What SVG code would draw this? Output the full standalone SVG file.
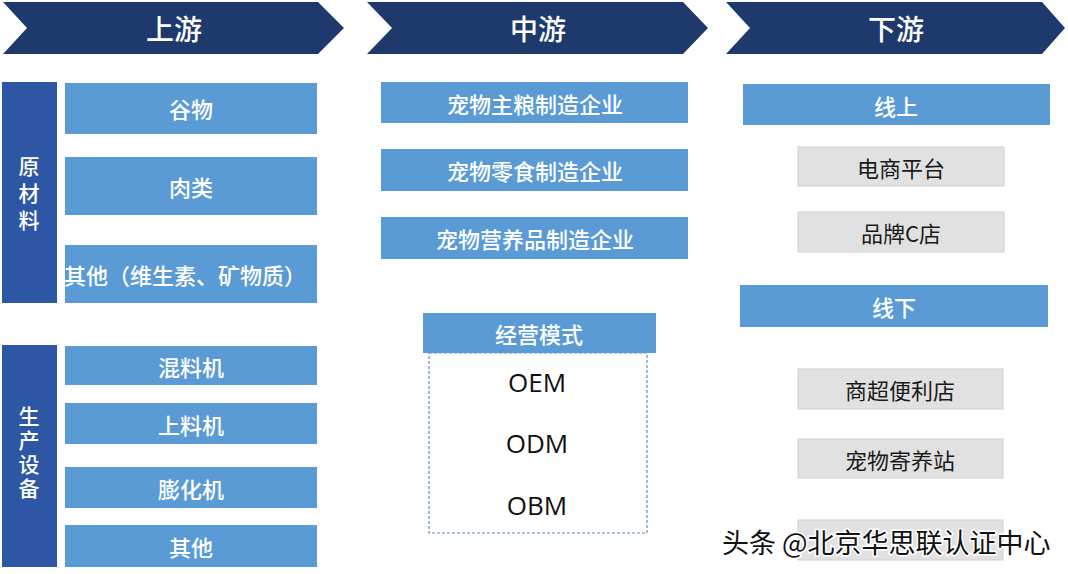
<svg xmlns="http://www.w3.org/2000/svg" width="1068" height="574" viewBox="0 0 1068 574">
<style>
.hdr{fill:#1e3a6c}
.htx{fill:#ffffff;font-family:"Noto Sans CJK SC","Noto Sans",sans-serif;font-size:28px;font-weight:500;text-anchor:middle;dominant-baseline:central}
.side{fill:#2d57a5}
.stx{fill:#ffffff;font-family:"Noto Sans CJK SC",sans-serif;font-size:21px;font-weight:500;text-anchor:middle;writing-mode:vertical-rl}
.blue{fill:#5b9bd5}
.btx{fill:#ffffff;font-family:"Noto Sans CJK SC",sans-serif;font-size:22px;font-weight:500;text-anchor:middle;dominant-baseline:central}
.gray{fill:#e1e1e1;stroke:#d0d0d0;stroke-width:1}
.gtx{fill:#1a1a1a;font-family:"Noto Sans CJK SC",sans-serif;font-size:22px;text-anchor:middle;dominant-baseline:central}
.ltx{fill:#111111;font-family:"Open Sans","Noto Sans",sans-serif;font-size:26px;text-anchor:middle;dominant-baseline:central}
.dash{fill:none;stroke:#5b8fc9;stroke-width:1.2;stroke-dasharray:3 2}
.wm{fill:#111111;stroke:#ffffff;stroke-width:3;paint-order:stroke;font-family:"Noto Sans CJK SC",sans-serif;font-size:27px}
</style>
<rect width="1068" height="574" fill="#ffffff"/>

<g id="header-upstream">
<polygon class="hdr" points="3,2 318,2 344,28 318,54 3,54 27,28"/>
<text class="htx" x="174" y="28">上游</text>
</g>
<g id="header-midstream">
<polygon class="hdr" points="367,2 683,2 708,28 683,54 367,54 392,28"/>
<text class="htx" x="538" y="28">中游</text>
</g>
<g id="header-downstream">
<polygon class="hdr" points="726,2 1042,2 1065,28 1042,54 726,54 750,28"/>
<text class="htx" x="896" y="28">下游</text>
</g>

<g id="raw-materials">
<rect class="side" x="2" y="82" width="55" height="221"/>
<text class="stx" x="29" y="196" letter-spacing="6">原材料</text>
</g>
<g id="grain"><rect class="blue" x="65" y="83" width="252" height="51"/><text class="btx" x="191" y="108">谷物</text></g>
<g id="meat"><rect class="blue" x="65" y="157" width="252" height="58"/><text class="btx" x="191" y="186">肉类</text></g>
<g id="other-materials"><rect class="blue" x="65" y="245" width="252" height="58"/><text class="btx" x="185" y="274">其他（维生素、矿物质）</text></g>

<g id="equipment">
<rect class="side" x="2" y="345" width="55" height="222"/>
<text class="stx" x="29" y="454" letter-spacing="3">生产设备</text>
</g>
<g id="mixer"><rect class="blue" x="65" y="346" width="252" height="39"/><text class="btx" x="191" y="366">混料机</text></g>
<g id="feeder"><rect class="blue" x="65" y="403" width="252" height="41"/><text class="btx" x="191" y="424">上料机</text></g>
<g id="extruder"><rect class="blue" x="65" y="467" width="252" height="41"/><text class="btx" x="191" y="488">膨化机</text></g>
<g id="other-equipment"><rect class="blue" x="65" y="525" width="252" height="42"/><text class="btx" x="191" y="546">其他</text></g>

<g id="staple-food"><rect class="blue" x="381" y="82" width="307" height="41"/><text class="btx" x="535" y="103">宠物主粮制造企业</text></g>
<g id="snack"><rect class="blue" x="381" y="149" width="307" height="42"/><text class="btx" x="535" y="170">宠物零食制造企业</text></g>
<g id="nutrition"><rect class="blue" x="381" y="217" width="307" height="42"/><text class="btx" x="535" y="238">宠物营养品制造企业</text></g>

<g id="business-model">
<rect class="dash" x="429" y="353" width="218" height="180"/>
<rect class="blue" x="423" y="313" width="233" height="40"/>
<text class="btx" x="539" y="333">经营模式</text>
<text class="ltx" x="537" y="382">OEM</text>
<text class="ltx" x="537" y="443">ODM</text>
<text class="ltx" x="537" y="505">OBM</text>
</g>

<g id="online"><rect class="blue" x="743" y="84" width="307" height="41"/><text class="btx" x="896" y="105">线上</text></g>
<g id="ecommerce"><rect class="gray" x="798" y="147" width="206" height="39"/><text class="gtx" x="901" y="167">电商平台</text></g>
<g id="brand-store"><rect class="gray" x="798" y="212" width="206" height="40"/><text class="gtx" x="901" y="232">品牌C店</text></g>
<g id="offline"><rect class="blue" x="740" y="285" width="308" height="42"/><text class="btx" x="894" y="306">线下</text></g>
<g id="supermarket"><rect class="gray" x="798" y="369" width="205" height="40"/><text class="gtx" x="900" y="389">商超便利店</text></g>
<g id="pet-boarding"><rect class="gray" x="798" y="439" width="205" height="39"/><text class="gtx" x="900" y="459">宠物寄养站</text></g>
<g id="hidden-box"><rect class="gray" x="798" y="520" width="205" height="40"/></g>

<g id="connectors"></g>

<text class="wm" x="722" y="553">头条 @北京华思联认证中心</text>
</svg>
